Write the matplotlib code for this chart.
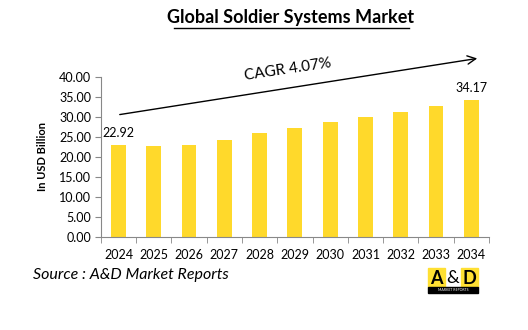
import matplotlib.pyplot as plt
from matplotlib.patches import Rectangle, FancyArrowPatch

plt.rcParams['font.family'] = ['Lato', 'DejaVu Sans']

years = ["2024", "2025", "2026", "2027", "2028", "2029", "2030", "2031", "2032", "2033", "2034"]
values = [22.92, 22.85, 22.88, 24.2, 26.1, 27.3, 28.8, 30.0, 31.3, 32.6, 34.17]
labelled = {0: "22.92", 10: "34.17"}

fig = plt.figure(figsize=(5.28, 3.30), dpi=100)
ax = fig.add_axes([0.191, 0.282, 0.735, 0.485])

x = list(range(len(years)))
ax.bar(x, values, width=0.42, color="#FFD92B")
ax.set_xlim(-0.5, len(years) - 0.5)
ax.set_ylim(0, 40)
ax.set_yticks([0, 5, 10, 15, 20, 25, 30, 35, 40])
ax.set_yticklabels([f"{v:.2f}" for v in ax.get_yticks()])
ax.set_xticks(x)
ax.set_xticklabels(years)
ax.set_xticks([i - 0.5 for i in range(len(years) + 1)], minor=True)
ax.tick_params(axis="x", which="major", length=0, pad=9, labelsize=9)
ax.tick_params(axis="x", which="minor", length=4, color="#888888")
ax.tick_params(axis="y", length=4, color="#888888", labelsize=9, pad=3)
for s in ["top", "right"]:
    ax.spines[s].set_visible(False)
for s in ["left", "bottom"]:
    ax.spines[s].set_color("#888888")

for i, t in labelled.items():
    ax.text(i, values[i] + 1.6, t, ha="center", va="bottom", fontsize=9)

ax.set_ylabel("In USD Billion", fontsize=8, fontweight="bold", labelpad=8)

# CAGR arrow
arrow = FancyArrowPatch((117 / 528, 1 - 115 / 330), (480 / 528, 1 - 58 / 330),
                        transform=fig.transFigure, arrowstyle="->,head_length=6,head_width=3",
                        color="black", lw=1)
fig.patches.append(arrow)
fig.text(288 / 528, 1 - 70 / 330, "CAGR 4.07%", ha="center", va="center",
         fontsize=11, rotation=8.5)

fig.text(291 / 528, 1 - 17 / 330, "Global Soldier Systems Market", ha="center",
         va="center", fontsize=13, fontweight="bold")
fig.add_artist(plt.Line2D([174 / 528, 409 / 528], [1 - 28 / 330, 1 - 28 / 330],
                          color="black", lw=1))

fig.text(33 / 528, 1 - 275 / 330, "Source : A&D Market Reports", ha="left",
         va="center", fontsize=11.5, style="italic")

# logo
fig.patches.append(Rectangle((428 / 528, 1 - 287 / 330), 17 / 528, 19 / 330,
                             transform=fig.transFigure, color="#FFE033"))
fig.patches.append(Rectangle((461 / 528, 1 - 287 / 330), 17 / 528, 19 / 330,
                             transform=fig.transFigure, color="#FFE033"))
fig.patches.append(Rectangle((428 / 528, 1 - 293 / 330), 50 / 528, 6 / 330,
                             transform=fig.transFigure, color="black"))
for lx, ch in [(436.5, "A"), (453, "&"), (469.5, "D")]:
    fig.text(lx / 528, 1 - 278 / 330, ch, ha="center", va="center",
             fontsize=13, fontweight="bold" if ch != "&" else "normal")
fig.text(453 / 528, 1 - 290 / 330, "MARKET REPORTS", ha="center", va="center",
         fontsize=2.5, color="white")

fig.savefig("out.png", dpi=100)
